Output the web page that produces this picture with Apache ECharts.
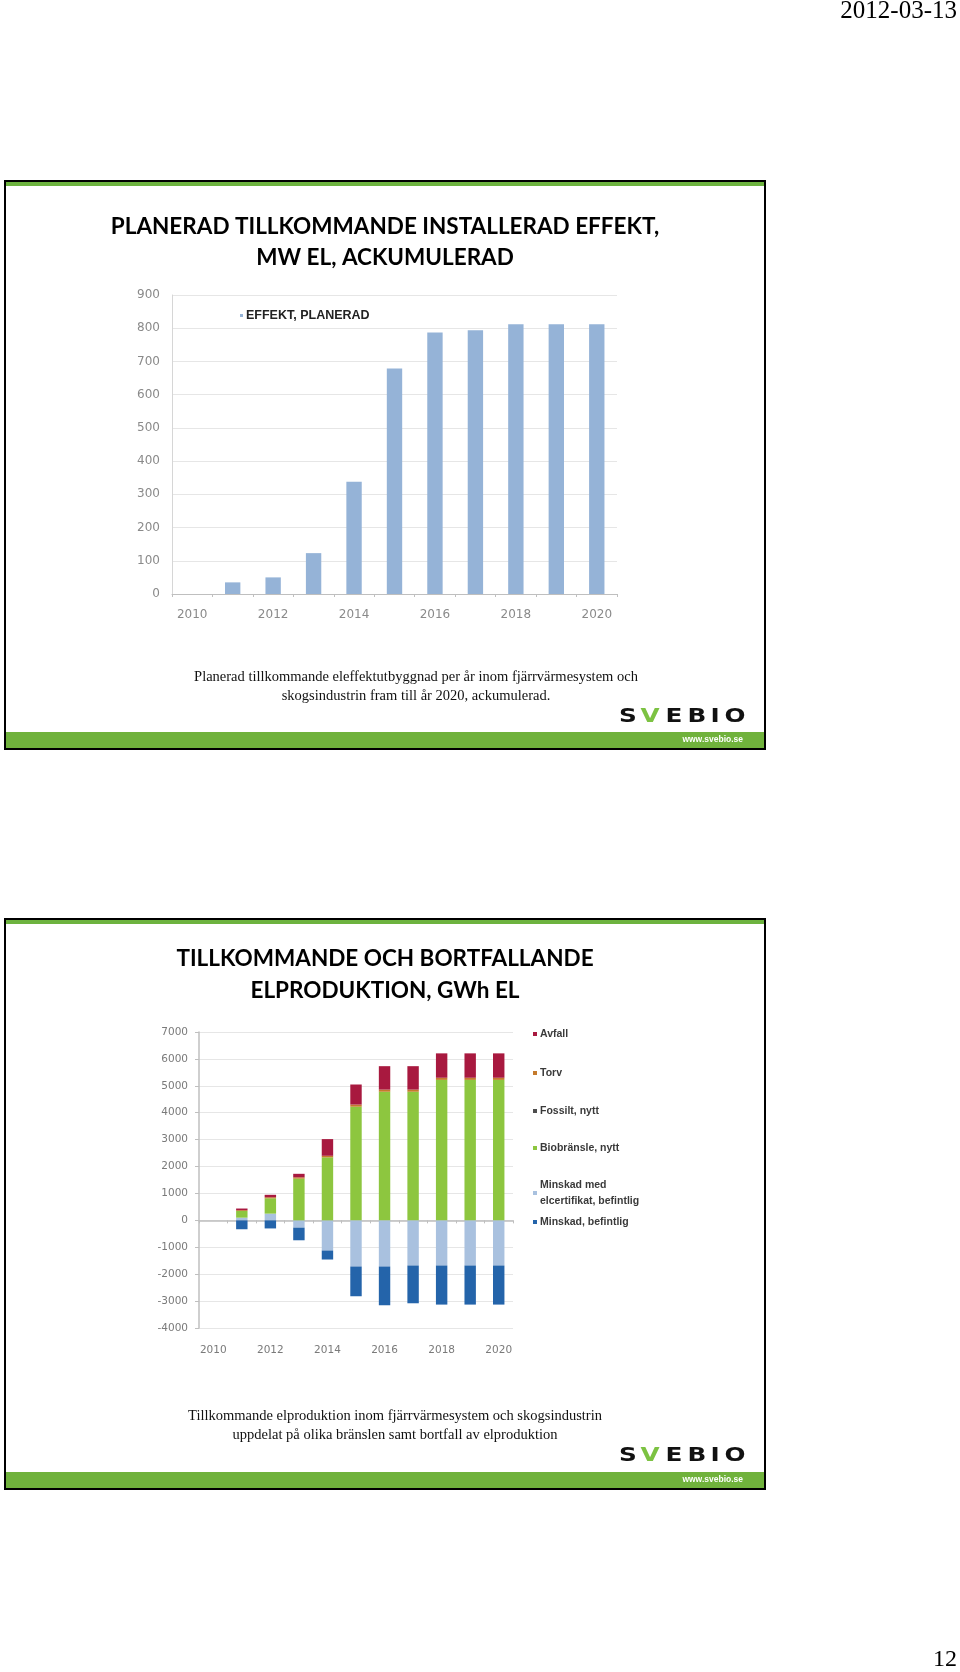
<!DOCTYPE html>
<html>
<head>
<meta charset="utf-8">
<script src="https://cdn.jsdelivr.net/npm/echarts@6/dist/echarts.min.js"></script>
<style>
html,body{margin:0;padding:0;background:#fff;}
#c{width:960px;height:1672px;}
</style>
</head>
<body>
<div id="c"></div>
<script>
// ---- data ----
const years = ['2010','2011','2012','2013','2014','2015','2016','2017','2018','2019','2020'];
const effekt = [0, 35, 50, 123, 338, 679, 787, 794, 812, 812, 812];
const minskadCert = [0, 100, 250, -270, -1120, -1714, -1714, -1677, -1677, -1677, -1677];
const minskadBef = [0, -330, -300, -470, -335, -1106, -1441, -1404, -1453, -1453, -1453];
const bio = [0, 250, 570, 1550, 2340, 4224, 4780, 4780, 5220, 5220, 5220];
const fossilt = [0, 0, 0, 0, 0, 0, 0, 0, 0, 0, 0];
const torv = [0, 30, 40, 50, 60, 80, 80, 80, 80, 80, 80];
const avfall = [0, 60, 90, 130, 620, 745, 870, 870, 906, 906, 906];
const yTicks1 = {min: 0, max: 900, interval: 100};
const yTicks2 = {min: -4000, max: 7000, interval: 1000};

const chart = echarts.init(document.getElementById('c'), null, {renderer: 'canvas'});

const axisGray = '#bfbfbf';
const gridGray = '#e6e6e6';
const labelGray = '#8a8a8a';
const green = '#6DB33F';

function legendItem(name, left, top) {
  return {
    data: [name], left: left, top: top, orient: 'vertical', padding: 0,
    icon: 'rect', itemWidth: 4, itemHeight: 4, itemGap: 2,
    textStyle: {fontFamily: 'Liberation Sans', fontWeight: 'bold', fontSize: 10.5, color: '#3a3a3a', lineHeight: 16, padding: [0,0,0,-2]},
    selectedMode: false
  };
}

function slide(top, bottom) {
  return [
    {type: 'rect', shape: {x: 5, y: top, width: 760, height: bottom - top}, style: {fill: 'none', stroke: '#000', lineWidth: 2}, z: 10},
    {type: 'rect', shape: {x: 6, y: top + 1, width: 758, height: 4}, style: {fill: green}, z: 10},
    {type: 'rect', shape: {x: 6, y: bottom - 17, width: 758, height: 16}, style: {fill: '#70B23C'}, z: 10},
    {type: 'text', x: 743, y: bottom - 9, style: {text: 'www.svebio.se', fill: '#ffffff', font: 'bold 8.5px "Liberation Sans Narrow", "Liberation Sans", sans-serif', align: 'right', verticalAlign: 'middle'}, z: 11}
  ];
}

function logo(cy) {
  const letters = [['S', 628, '#111'], ['V', 650, '#7CC242'], ['E', 674, '#111'], ['B', 697, '#111'], ['I', 715, '#111'], ['O', 735, '#111']];
  return letters.map(l => ({
    type: 'text', x: l[1], y: cy, scaleX: 1.3,
    style: {text: l[0], fill: l[2], font: 'bold 19px "DejaVu Sans", sans-serif', align: 'center', verticalAlign: 'middle'}, z: 11
  }));
}

function centerText(txt, x, y, font, color) {
  return {type: 'text', x: x, y: y, style: {text: txt, fill: color || '#000', font: font, align: 'center', verticalAlign: 'middle'}, z: 11};
}

const titleFont = 'bold 22.5px Lato, "Open Sans", sans-serif';
const capFont = '14.5px "Liberation Serif", "DejaVu Serif", serif';

const graphics = [].concat(
  slide(181, 749),
  slide(919, 1489),
  logo(717),
  logo(1456),
  [
    {type: 'text', x: 957, y: 11, style: {text: '2012-03-13', fill: '#000', font: '25px "Liberation Serif", serif', align: 'right', verticalAlign: 'middle'}},
    {type: 'text', x: 957, y: 1660, style: {text: '12', fill: '#000', font: '24px "Liberation Serif", serif', align: 'right', verticalAlign: 'middle'}},
    centerText('PLANERAD TILLKOMMANDE INSTALLERAD EFFEKT,', 385, 227, titleFont),
    centerText('MW EL, ACKUMULERAD', 385, 258, titleFont),
    centerText('Planerad tillkommande eleffektutbyggnad per år inom fjärrvärmesystem och', 416, 677, capFont, '#111'),
    centerText('skogsindustrin fram till år 2020, ackumulerad.', 416, 696, capFont, '#111'),
    centerText('TILLKOMMANDE OCH BORTFALLANDE', 385, 959, titleFont),
    centerText('ELPRODUKTION, GWh EL', 385, 991, titleFont),
    centerText('Tillkommande elproduktion inom fjärrvärmesystem och skogsindustrin', 395, 1416, capFont, '#111'),
    centerText('uppdelat på olika bränslen samt bortfall av elproduktion', 395, 1435, capFont, '#111')
  ]
);

const plain = v => String(v);

const option = {
  backgroundColor: '#ffffff',
  animation: false,
  graphic: graphics,
  legend: [
    {
      data: ['EFFEKT, PLANERAD'], left: 240, top: 309, padding: 0,
      icon: 'rect', itemWidth: 3, itemHeight: 3, itemGap: 2, selectedMode: false,
      textStyle: {fontFamily: 'Liberation Sans', fontWeight: 'bold', fontSize: 12.5, color: '#222', padding: [0,0,0,-2]}
    },
    legendItem('Avfall', 533, 1026),
    legendItem('Torv', 533, 1065),
    legendItem('Fossilt, nytt', 533, 1103),
    legendItem('Biobränsle, nytt', 533, 1140),
    legendItem('Minskad med\nelcertifikat, befintlig', 533, 1177),
    legendItem('Minskad, befintlig', 533, 1214)
  ],
  grid: [
    {left: 172, width: 445, top: 295, height: 299},
    {left: 199, width: 314, top: 1032, height: 296}
  ],
  xAxis: [
    {
      gridIndex: 0, type: 'category', data: years,
      axisLine: {lineStyle: {color: axisGray}},
      axisTick: {show: true, interval: 0, length: 3, lineStyle: {color: axisGray}},
      axisLabel: {interval: 1, margin: 15, color: labelGray, fontFamily: 'DejaVu Sans', fontSize: 12}
    },
    {
      gridIndex: 1, type: 'category', data: years, position: 'bottom',
      axisLine: {show: false, onZero: false},
      axisTick: {show: false},
      axisLabel: {interval: 1, margin: 17, color: '#7a7a7a', fontFamily: 'DejaVu Sans', fontSize: 10.5}
    },
    {
      gridIndex: 1, type: 'category', data: years, position: 'top',
      axisLine: {show: true, onZero: true, lineStyle: {color: axisGray, width: 1.5}},
      axisTick: {show: true, inside: true, interval: 0, length: 3, lineStyle: {color: axisGray}},
      axisLabel: {show: false}
    }
  ],
  yAxis: [
    {
      gridIndex: 0, type: 'value', min: yTicks1.min, max: yTicks1.max, interval: yTicks1.interval,
      axisLine: {show: true, lineStyle: {color: '#d6d6d6'}},
      axisTick: {show: false},
      splitLine: {lineStyle: {color: gridGray}},
      axisLabel: {margin: 12, color: labelGray, fontFamily: 'DejaVu Sans', fontSize: 12, formatter: plain}
    },
    {
      gridIndex: 1, type: 'value', min: yTicks2.min, max: yTicks2.max, interval: yTicks2.interval,
      axisLine: {show: true, lineStyle: {color: axisGray, width: 1.5}},
      axisTick: {show: true, length: 4, lineStyle: {color: axisGray}},
      splitLine: {lineStyle: {color: gridGray}},
      axisLabel: {margin: 11, color: '#7a7a7a', fontFamily: 'DejaVu Sans', fontSize: 10.5, formatter: plain}
    }
  ],
  series: [
    {name: 'EFFEKT, PLANERAD', type: 'bar', xAxisIndex: 0, yAxisIndex: 0, data: effekt, barWidth: '38%', itemStyle: {color: '#95B3D7'}},
    {name: 'Minskad med\nelcertifikat, befintlig', type: 'bar', stack: 'el', xAxisIndex: 1, yAxisIndex: 1, data: minskadCert, barWidth: '40%', itemStyle: {color: '#A9C1DF'}},
    {name: 'Minskad, befintlig', type: 'bar', stack: 'el', xAxisIndex: 1, yAxisIndex: 1, data: minskadBef, barWidth: '40%', itemStyle: {color: '#2464AA'}},
    {name: 'Biobränsle, nytt', type: 'bar', stack: 'el', xAxisIndex: 1, yAxisIndex: 1, data: bio, barWidth: '40%', itemStyle: {color: '#8DC63F'}},
    {name: 'Fossilt, nytt', type: 'bar', stack: 'el', xAxisIndex: 1, yAxisIndex: 1, data: fossilt, barWidth: '40%', itemStyle: {color: '#4D4D4D'}},
    {name: 'Torv', type: 'bar', stack: 'el', xAxisIndex: 1, yAxisIndex: 1, data: torv, barWidth: '40%', itemStyle: {color: '#C47A2C'}},
    {name: 'Avfall', type: 'bar', stack: 'el', xAxisIndex: 1, yAxisIndex: 1, data: avfall, barWidth: '40%', itemStyle: {color: '#A8193F'}}
  ]
};
chart.setOption(option);
</script>
</body>
</html>
